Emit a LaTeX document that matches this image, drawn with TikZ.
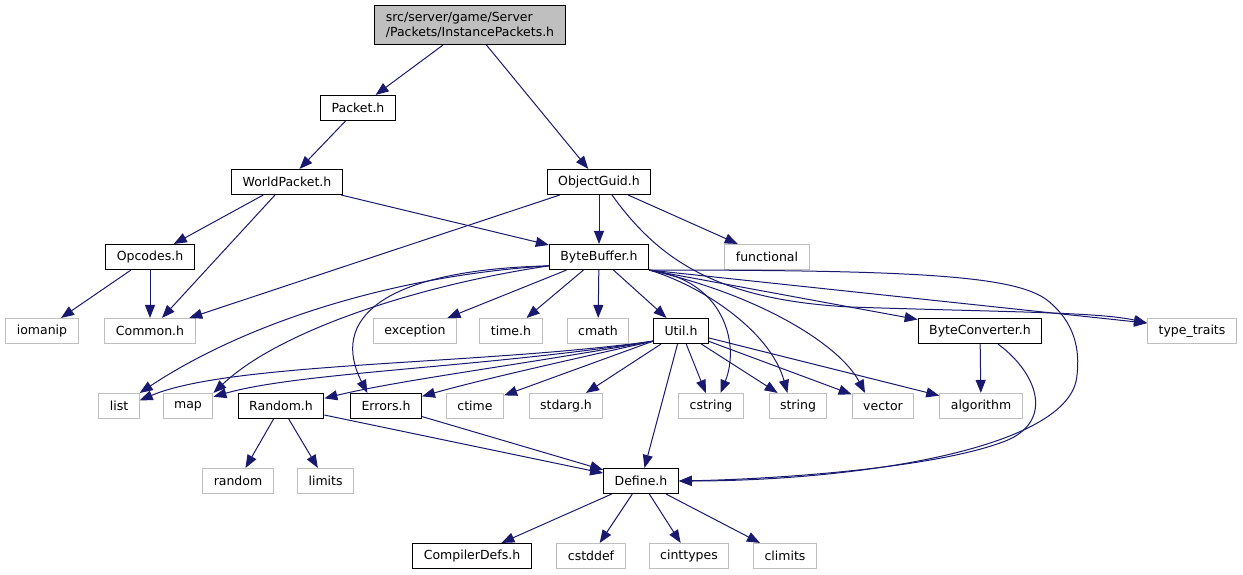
\documentclass[tikz,border=0pt]{standalone}
\usepackage{fontspec}
\setmainfont{DejaVu Sans}
\usetikzlibrary{arrows.meta}

\definecolor{edgeblue}{HTML}{191970}
\definecolor{boxgray}{HTML}{BFBFBF}

\tikzset{
  file/.style={draw=black, fill=white, line width=1.1pt, inner xsep=11pt, inner ysep=0pt,
    minimum height=25pt, font=\fontsize{12.5}{15}\selectfont},
  sysfile/.style={file, draw=boxgray},
  dep/.style={draw=edgeblue, line width=1pt, -{Triangle[length=13pt,width=10pt]}}
}

\begin{document}
\begin{tikzpicture}[x=1pt,y=-1pt]
  \useasboundingbox (0,0) rectangle (1243,575);
  % headers of the project
  \node[file, fill=boxgray, align=left, minimum height=39pt] (inst) at (470,25)
    {src/server/game/Server\\/Packets/InstancePackets.h};
  \node[file] (pkt) at (358,108) {Packet.h};
  \node[file] (wpkt) at (287,182) {WorldPacket.h};
  \node[file] (og) at (599,182) {ObjectGuid.h};
  \node[file] (opc) at (150,257) {Opcodes.h};
  \node[file] (bb) at (599,257) {ByteBuffer.h};
  \node[file] (util) at (681,331) {Util.h};
  \node[file] (bconv) at (980,331) {ByteConverter.h};
  \node[file] (rnd) at (281,406) {Random.h};
  \node[file] (err) at (386,406) {Errors.h};
  \node[file] (def) at (641,481) {Define.h};
  \node[file] (cdefs) at (472,556) {CompilerDefs.h};
  % system headers
  \node[sysfile] (func) at (767,257) {functional};
  \node[sysfile] (ioman) at (42,331) {iomanip};
  \node[sysfile] (common) at (150,331) {Common.h};
  \node[sysfile] (exc) at (415,331) {exception};
  \node[sysfile] (timeh) at (511,331) {time.h};
  \node[sysfile] (cmath) at (598,331) {cmath};
  \node[sysfile] (tt) at (1192,331) {type\_traits};
  \node[sysfile] (lst) at (119,406) {list};
  \node[sysfile] (map) at (188,406) {map};
  \node[sysfile] (ctime) at (475,406) {ctime};
  \node[sysfile] (stdarg) at (566,406) {stdarg.h};
  \node[sysfile] (cstr) at (711,406) {cstring};
  \node[sysfile] (str) at (798,406) {string};
  \node[sysfile] (vec) at (883,406) {vector};
  \node[sysfile] (algo) at (981,406) {algorithm};
  \node[sysfile] (rndlib) at (238,481) {random};
  \node[sysfile] (lim) at (325.6,481) {limits};
  \node[sysfile] (cstddef) at (591,556) {cstddef};
  \node[sysfile] (cint) at (689,556) {cinttypes};
  \node[sysfile] (climits) at (785,556) {climits};

  \path[every edge/.style=dep]
  (inst) edge (pkt)
  (inst) edge (og)
  (pkt) edge (wpkt)
  (wpkt) edge (opc)
  (wpkt) edge (common)
  (wpkt) edge (bb)
  (og) edge (common)
  (og) edge (bb)
  (og) edge (func)
  (opc) edge (ioman)
  (opc) edge (common)
  (bb) edge (exc)
  (bb) edge (timeh)
  (bb) edge (cmath)
  (bb) edge (util)
  (bb.south east) edge (bconv)
  (bb.south east) edge (tt.170)
  (util) edge (ctime)
  (util) edge (stdarg)
  (util) edge (cstr)
  (util) edge (str)
  (util) edge (vec)
  (util) edge (algo)
  (util) edge (def)
  (bconv) edge (algo)
  (rnd) edge (rndlib)
  (rnd) edge (lim)
  (rnd) edge (def)
  (err) edge (def)
  (def) edge (cdefs)
  (def) edge (cstddef)
  (def) edge (cint)
  (def) edge (climits)
;
  % curved includes
  \draw[dep] (og.315) .. controls (660,262) and (720,300) .. (850,307)
    .. controls (1000,312) and (1100,312) .. (tt.170);
  \draw[dep] (bb.190) .. controls (400,275) and (250,320) .. (lst.north east);
  \draw[dep] (bb.190) .. controls (420,285) and (280,330) .. (map.north east);
  \draw[dep] (bb.190) .. controls (380,270) and (330,320) .. (err.145);
  \draw[dep] (bb.south east) .. controls (725,280) and (740,345) .. (cstr.54);
  \draw[dep] (bb.south east) .. controls (700,285) and (770,330) .. (str.129);
  \draw[dep] (bb.south east) .. controls (760,295) and (840,345) .. (vec.144);
  \draw[dep] (bb.south east) .. controls (920,270) and (1015,276) .. (1047,300)
    .. controls (1075,322) and (1080,350) .. (1077,375)
    .. controls (1072,450) and (850,481) .. (def.east);
  \draw[dep] (bconv.324) .. controls (1040,375) and (1055,425) .. (1000,443)
    .. controls (930,468) and (780,479) .. (def.east);
  \draw[dep] (util.200) .. controls (480,365) and (230,362) .. (lst.15);
  \draw[dep] (util.200) .. controls (480,368) and (300,372) .. (map.20);
  \draw[dep] (util.200) .. controls (520,365) and (400,380) .. (rnd.10);
  \draw[dep] (util.200) .. controls (560,362) and (480,380) .. (err.15);
\end{tikzpicture}
\end{document}
